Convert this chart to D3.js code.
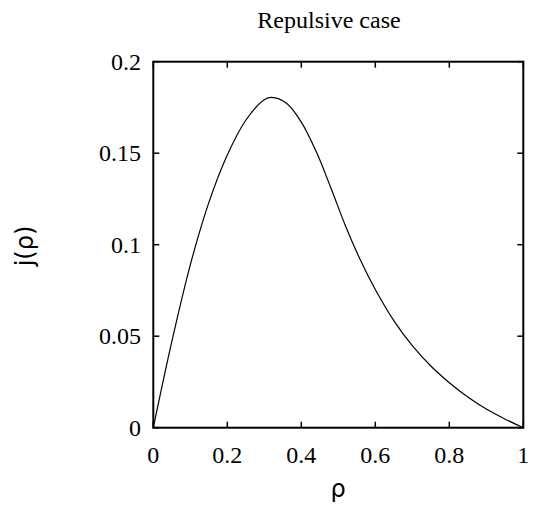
<!DOCTYPE html>
<html><head><meta charset="utf-8">
<script src="https://cdn.jsdelivr.net/npm/d3@7"></script>
<style>body{margin:0;background:#fff}</style>
</head><body>
<svg id="c" width="535" height="510"></svg>
<script>
const rho = [0, 0.05, 0.1, 0.15, 0.2, 0.25, 0.3, 0.32, 0.36, 0.4, 0.44, 0.48, 0.52, 0.56, 0.6, 0.65, 0.7, 0.75, 0.8, 0.85, 0.9, 0.95, 1];
const jval = [0, 0.047, 0.089, 0.123, 0.149, 0.168, 0.1792, 0.1805, 0.1773, 0.167, 0.151, 0.131, 0.110, 0.0915, 0.0755, 0.0585, 0.0448, 0.0337, 0.0246, 0.0168, 0.0102, 0.0048, 0];
const xTicks = [0, 0.2, 0.4, 0.6, 0.8, 1];
const yTicks = [0, 0.05, 0.1, 0.15, 0.2];
const xTickLabels = ["0", "0.2", "0.4", "0.6", "0.8", "1"];
const yTickLabels = ["0", "0.05", "0.1", "0.15", "0.2"];
const title = "Repulsive case";
const xLabel = "ρ";
const yLabel = "j(ρ)";

const L = 153.3, R = 523.3, T = 61.7, B = 427.7;
const svg = d3.select("#c");
const x = d3.scaleLinear().domain([0, 1]).range([L, R]);
const y = d3.scaleLinear().domain([0, 0.2]).range([B, T]);
const serif = "Liberation Serif";
const sans = "DejaVu Sans";

const line = d3.line().x((d, i) => x(rho[i])).y((d, i) => y(jval[i])).curve(d3.curveCatmullRom.alpha(0.5));
svg.append("path").datum(rho).attr("d", line).attr("fill", "none").attr("stroke", "#000").attr("stroke-width", 1.2);

const tl = 6;
const g = svg.append("g").attr("stroke", "#000").attr("stroke-width", 1.5);
xTicks.forEach(t => {
  g.append("line").attr("x1", x(t)).attr("x2", x(t)).attr("y1", B).attr("y2", B - tl);
  g.append("line").attr("x1", x(t)).attr("x2", x(t)).attr("y1", T).attr("y2", T + tl);
});
yTicks.forEach(t => {
  g.append("line").attr("x1", L).attr("x2", L + tl).attr("y1", y(t)).attr("y2", y(t));
  g.append("line").attr("x1", R).attr("x2", R - tl).attr("y1", y(t)).attr("y2", y(t));
});
svg.append("rect").attr("x", L).attr("y", T).attr("width", R - L).attr("height", B - T)
  .attr("fill", "none").attr("stroke", "#000").attr("stroke-width", 2);

xTicks.forEach((t, i) => {
  svg.append("text").attr("x", x(t)).attr("y", 463).attr("text-anchor", "middle")
    .attr("font-family", serif).attr("font-size", 24).text(xTickLabels[i]);
});
yTicks.forEach((t, i) => {
  svg.append("text").attr("x", 141).attr("y", y(t) + 8).attr("text-anchor", "end")
    .attr("font-family", serif).attr("font-size", 24).text(yTickLabels[i]);
});
svg.append("text").attr("x", 329).attr("y", 28).attr("text-anchor", "middle")
  .attr("font-family", serif).attr("font-size", 24).text(title);
svg.append("text").attr("x", 338).attr("y", 497).attr("text-anchor", "middle")
  .attr("font-family", sans).attr("font-size", 24).text(xLabel);
svg.append("text").attr("transform", "translate(33,246) rotate(-90)").attr("text-anchor", "middle")
  .attr("font-family", sans).attr("font-size", 24).text(yLabel);
</script>
</body></html>
